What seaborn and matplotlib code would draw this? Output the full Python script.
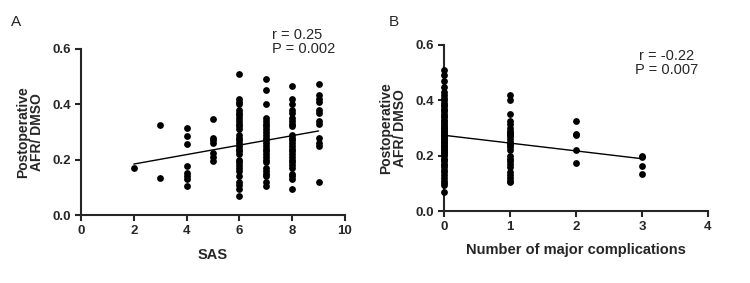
import matplotlib
matplotlib.use("Agg")
import matplotlib.pyplot as plt
import seaborn as sns
import pandas as pd

sns.set_style("ticks")
plt.rcParams['font.family'] = ['Liberation Sans', 'DejaVu Sans']

# panel A: SAS vs postoperative AFR/DMSO
sas_2 = [0.17]
sas_3 = [0.325, 0.133]
sas_4 = [0.313, 0.286, 0.255, 0.178, 0.153, 0.142, 0.130, 0.106]
sas_5 = [0.347, 0.280, 0.270, 0.262, 0.223, 0.210, 0.197]
sas_6 = [0.51, 0.42, 0.41, 0.40, 0.38, 0.37, 0.36, 0.35, 0.34, 0.33, 0.32, 0.31,
         0.29, 0.28, 0.27, 0.26, 0.25, 0.24, 0.23, 0.22, 0.20, 0.19, 0.18, 0.17,
         0.16, 0.14, 0.12, 0.11, 0.095, 0.068]
sas_7 = [0.49, 0.45, 0.40, 0.35, 0.34, 0.33, 0.32, 0.31, 0.30, 0.29, 0.28, 0.27,
         0.26, 0.25, 0.24, 0.23, 0.22, 0.21, 0.20, 0.19, 0.17, 0.16, 0.15, 0.14,
         0.12, 0.105]
sas_8 = [0.465, 0.42, 0.40, 0.38, 0.37, 0.35, 0.34, 0.33, 0.32, 0.29, 0.28, 0.27,
         0.26, 0.25, 0.24, 0.23, 0.22, 0.21, 0.20, 0.19, 0.18, 0.17, 0.15, 0.14,
         0.13, 0.095]
sas_9 = [0.475, 0.435, 0.42, 0.41, 0.38, 0.37, 0.34, 0.33, 0.28, 0.26, 0.25, 0.12]

# panel B: number of major complications
comp_0 = [0.51, 0.49, 0.47, 0.45, 0.43, 0.42, 0.41, 0.40, 0.39, 0.385, 0.38,
          0.37, 0.365, 0.36, 0.35, 0.345, 0.34, 0.33, 0.325, 0.32, 0.31, 0.305,
          0.30, 0.295, 0.29, 0.285, 0.28, 0.275, 0.27, 0.265, 0.26, 0.255, 0.25,
          0.245, 0.24, 0.235, 0.23, 0.225, 0.22, 0.215, 0.21, 0.205, 0.20, 0.19,
          0.185, 0.18, 0.17, 0.165, 0.16, 0.15, 0.14, 0.13, 0.12, 0.11, 0.10,
          0.095, 0.07]
comp_1 = [0.42, 0.40, 0.35, 0.325, 0.315, 0.30, 0.29, 0.285, 0.28, 0.275, 0.27,
          0.26, 0.25, 0.245, 0.24, 0.23, 0.22, 0.20, 0.19, 0.18, 0.17, 0.16,
          0.14, 0.13, 0.12, 0.11, 0.105]
comp_2 = [0.325, 0.28, 0.274, 0.22, 0.175]
comp_3 = [0.20, 0.195, 0.163, 0.133]

rows_a = []
for x, vals in zip([2, 3, 4, 5, 6, 7, 8, 9],
                   [sas_2, sas_3, sas_4, sas_5, sas_6, sas_7, sas_8, sas_9]):
    rows_a += [(x, v) for v in vals]
df_a = pd.DataFrame(rows_a, columns=['SAS', 'AFR'])

rows_b = []
for x, vals in zip([0, 1, 2, 3], [comp_0, comp_1, comp_2, comp_3]):
    rows_b += [(x, v) for v in vals]
df_b = pd.DataFrame(rows_b, columns=['comp', 'AFR'])

fig = plt.figure(figsize=(7.5, 2.83), dpi=100)
ax1 = fig.add_axes([0.108, 0.240, 0.352, 0.587])
ax2 = fig.add_axes([0.592, 0.254, 0.352, 0.587])

scat = dict(color='black', s=24, linewidths=0, alpha=1, clip_on=False, zorder=5)
line = dict(color='black', lw=1)

sns.regplot(data=df_a, x='SAS', y='AFR', ax=ax1, ci=None,
            scatter_kws=scat, line_kws=line)
sns.regplot(data=df_b, x='comp', y='AFR', ax=ax2, ci=None,
            scatter_kws=scat, line_kws=line)

for ax in (ax1, ax2):
    sns.despine(ax=ax)
    ax.set_ylim(0, 0.6)
    ax.set_yticks([0.0, 0.2, 0.4, 0.6])
    ax.set_yticklabels(['0.0', '0.2', '0.4', '0.6'])
    ax.spines['left'].set_linewidth(1.5)
    ax.spines['bottom'].set_linewidth(1.5)
    ax.tick_params(width=1.5, length=4, labelsize=9.5, pad=3)
    ax.set_ylabel('Postoperative\nAFR/ DMSO', fontsize=10, fontweight='bold',
                  linespacing=1.0, labelpad=6)

ax1.set_xlim(0, 10)
ax1.set_xticks([0, 2, 4, 6, 8, 10])
ax1.set_xlabel('SAS', fontsize=10.5, fontweight='bold', labelpad=8)

ax2.set_xlim(0, 4)
ax2.set_xticks([0, 1, 2, 3, 4])
ax2.set_xlabel('Number of major complications', fontsize=10.5,
               fontweight='bold', labelpad=7)

for ax in (ax1, ax2):
    for lab in ax.get_xticklabels() + ax.get_yticklabels():
        lab.set_fontweight('bold')

fig.text(272 / 750, 1 - 42 / 283, 'r = 0.25\nP = 0.002', fontsize=10.5,
         ha='left', va='center', linespacing=1.0)
fig.text(698 / 750, 1 - 63 / 283, 'r = -0.22\nP = 0.007', fontsize=10.5,
         ha='right', va='center', linespacing=1.0, multialignment='center')
fig.text(11 / 750, 1 - 22 / 283, 'A', fontsize=11, ha='left', va='center')
fig.text(389 / 750, 1 - 22 / 283, 'B', fontsize=11, ha='left', va='center')

fig.savefig('out.png', dpi=100)
